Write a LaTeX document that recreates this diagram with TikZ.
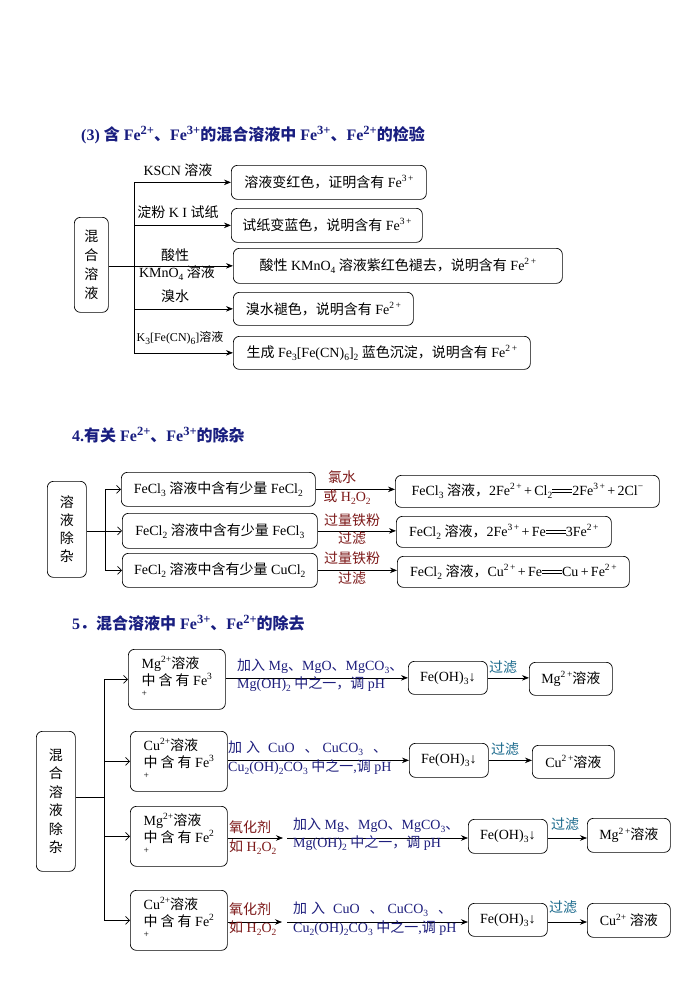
\documentclass[tikz,border=0pt]{standalone}
\usepackage{fontspec}
\setmainfont{Liberation Serif}
\newfontfamily\cjkf{Noto Sans CJK SC}
\usetikzlibrary{arrows.meta}
\XeTeXinterchartokenstate=1
\newXeTeXintercharclass\cjkcls
\newcount\cjkcc
\cjkcc="3000 \loop \XeTeXcharclass\cjkcc=\cjkcls \advance\cjkcc by 1 \ifnum\cjkcc<"3040 \repeat
\cjkcc="4E00 \loop \XeTeXcharclass\cjkcc=\cjkcls \advance\cjkcc by 1 \ifnum\cjkcc<"A000 \repeat
\cjkcc="FF00 \loop \XeTeXcharclass\cjkcc=\cjkcls \advance\cjkcc by 1 \ifnum\cjkcc<"FFF0 \repeat
\XeTeXinterchartoks 0 \cjkcls={\cjkf}
\XeTeXinterchartoks 4095 \cjkcls={\cjkf}
\XeTeXinterchartoks \cjkcls 0={\rmfamily}
\XeTeXinterchartoks \cjkcls 4095={\rmfamily}
\newcommand\fs{\fontsize{14pt}{17pt}\selectfont}
\newcommand\ft{\fontsize{16pt}{18pt}\selectfont\bfseries}
\newcommand\sups[1]{\raisebox{0.42em}{\fontsize{9.5pt}{10pt}\selectfont #1}}
\newcommand\subs[1]{\raisebox{-0.22em}{\fontsize{9.5pt}{10pt}\selectfont #1}}
\newcommand\supt[1]{\raisebox{0.4em}{\fontsize{12.5pt}{13pt}\selectfont #1}}
\newcommand\dbar{\makebox[20pt]{\rule[0.2em]{20pt}{0.6pt}\hspace{-20pt}\rule[0.42em]{20pt}{0.6pt}}}
\definecolor{ttlc}{RGB}{25,30,128}
\definecolor{dred}{RGB}{125,25,25}
\definecolor{navyc}{RGB}{30,30,125}
\definecolor{tealc}{RGB}{25,105,140}
\tikzset{
 box/.style={draw, line width=0.7pt, rounded corners=6pt, inner sep=0pt, font=\fs, anchor=north west},
 arF/.style={line width=0.7pt, -{Stealth[length=7pt,width=5.5pt]}},
 arO/.style={line width=0.7pt, -{Straight Barb[length=4pt,width=8pt]}},
 ln/.style={line width=0.7pt},
 lab/.style={inner sep=0pt, font=\fs},
 ttl/.style={inner sep=0pt, anchor=west, font=\ft, text=ttlc},
}
\begin{document}
\begin{tikzpicture}[x=1pt,y=-1pt]
\useasboundingbox (0,0) rectangle (696,983);
\fill[white] (0,0) rectangle (696,983);
% ---------- Section (3)
\node[ttl] (t1) at (81,135) {(3) 含 Fe\supt{2+}、Fe\supt{3+}的混合溶液中 Fe\supt{3+}、Fe\supt{2+}的检验};
\node[box, minimum width=34pt, minimum height=95pt, align=center, font=\fontsize{14pt}{19pt}\selectfont] (m1) at (74,217) {混\\合\\溶\\液};
\node[box, minimum width=195pt, minimum height=34pt] (b1) at (231,165) {溶液变红色，证明含有 Fe\sups{3\,+}};
\node[box, minimum width=191pt, minimum height=34pt] (b2) at (231,208) {试纸变蓝色，说明含有 Fe\sups{3\,+}};
\node[box, minimum width=329pt, minimum height=35pt] (b3) at (233,248) {酸性 KMnO\subs{4} 溶液紫红色褪去，说明含有 Fe\sups{2\,+}};
\node[box, minimum width=180pt, minimum height=33pt] (b4) at (233,292) {溴水褪色，说明含有 Fe\sups{2\,+}};
\node[box, minimum width=297pt, minimum height=33pt] (b5) at (233,336) {生成 Fe\subs{3}[Fe(CN)\subs{6}]\subs{2} 蓝色沉淀，说明含有 Fe\sups{2\,+}};
\coordinate (tr1) at (134,0);
\draw[ln] (b1.west -| tr1) -- (b5.west -| tr1);
\draw[arF] (b1.west -| tr1) -- (b1.west);
\draw[arF] (b2.west -| tr1) -- (b2.west);
\draw[arF] (m1.east |- b3.west) -- (b3.west);
\draw[arF] (b4.west -| tr1) -- (b4.west);
\draw[arF] (b5.west -| tr1) -- (b5.west);
\node[lab] (l11) at (178,170) {KSCN 溶液};
\node[lab] (l12) at (178,212) {淀粉 K I 试纸};
\node[lab] (l13) at (175,255) {酸性};
\node[lab] (l14) at (177,273) {KMnO\subs{4} 溶液};
\node[lab] (l15) at (175,296) {溴水};
\node[lab, font=\fontsize{12pt}{14pt}\selectfont] (l16) at (180,338) {K\subs{3}[Fe(CN)\subs{6}]溶液};
% ---------- Section 4
\node[ttl] (t2) at (72,435) {4.有关 Fe\supt{2+}、Fe\supt{3+}的除杂};
\node[box, minimum width=39pt, minimum height=96pt, align=center, font=\fontsize{14pt}{18pt}\selectfont] (m2) at (47,481) {溶\\液\\除\\杂};
\node[box, minimum width=194pt, minimum height=34pt] (c1) at (121,472) {FeCl\subs{3} 溶液中含有少量 FeCl\subs{2}};
\node[box, minimum width=195pt, minimum height=35pt] (c2) at (122,513) {FeCl\subs{2} 溶液中含有少量 FeCl\subs{3}};
\node[box, minimum width=195pt, minimum height=34pt] (c3) at (122,553) {FeCl\subs{2} 溶液中含有少量 CuCl\subs{2}};
\node[box, minimum width=264pt, minimum height=32pt] (d1) at (395,475) {FeCl\subs{3} 溶液，2Fe\sups{2\,+}\,+\,Cl\subs{2}\dbar 2Fe\sups{3\,+}\,+\,2Cl\sups{−}};
\node[box, minimum width=215pt, minimum height=31pt] (d2) at (396,516) {FeCl\subs{2} 溶液，2Fe\sups{3\,+}\,+\,Fe\dbar 3Fe\sups{2\,+}};
\node[box, minimum width=232pt, minimum height=31pt] (d3) at (397,556) {FeCl\subs{2} 溶液，Cu\sups{2\,+}\,+\,Fe\dbar Cu\,+\,Fe\sups{2\,+}};
\coordinate (tr2) at (105,0);
\draw[ln] (c1.west -| tr2) -- (c3.west -| tr2);
\draw[arO] (c1.west -| tr2) -- (c1.west);
\draw[arO] (m2.east |- c2.west) -- (c2.west);
\draw[arO] (c3.west -| tr2) -- (c3.west);
\draw[arF] (c1.east) -- (c1.east -| d1.west);
\draw[arF] (c2.east) -- (c2.east -| d2.west);
\draw[arF] (c3.east) -- (c3.east -| d3.west);
\node[lab, text=dred] (l21) at (342,477) {氯水};
\node[lab, text=dred] (l22) at (347,497) {或 H\subs{2}O\subs{2}};
\node[lab, text=dred] (l23) at (352,520) {过量铁粉};
\node[lab, text=dred] (l24) at (352,538) {过滤};
\node[lab, text=dred] (l25) at (352,558) {过量铁粉};
\node[lab, text=dred] (l26) at (352,578) {过滤};
% ---------- Section 5
\node[ttl] (t3) at (72,623) {5．混合溶液中 Fe\supt{3+}、Fe\supt{2+}的除去};
\node[box, minimum width=39pt, minimum height=140pt, align=center, font=\fontsize{14pt}{18.5pt}\selectfont] (m3) at (36,731) {混\\合\\溶\\液\\除\\杂};
\node[box, minimum width=97pt, minimum height=60pt, align=left] (e1) at (128,649) {Mg\sups{2+}溶液\\中\hspace{3pt}含\hspace{3pt}有 Fe\sups{3}\\\sups{+}};
\node[box, minimum width=97pt, minimum height=60pt, align=left] (e2) at (130,731) {Cu\sups{2+}溶液\\中\hspace{3pt}含\hspace{3pt}有 Fe\sups{3}\\\sups{+}};
\node[box, minimum width=97pt, minimum height=60pt, align=left] (e3) at (130,806) {Mg\sups{2+}溶液\\中\hspace{3pt}含\hspace{3pt}有 Fe\sups{2}\\\sups{+}};
\node[box, minimum width=97pt, minimum height=60pt, align=left] (e4) at (130,890) {Cu\sups{2+}溶液\\中\hspace{3pt}含\hspace{3pt}有 Fe\sups{2}\\\sups{+}};
\coordinate (tr3) at (104,0);
\coordinate (j3) at (104,797);
\draw[ln] (e1.west -| tr3) -- (e4.west -| tr3);
\draw[ln] (m3.east |- j3) -- (j3);
\draw[arO] (e1.west -| tr3) -- (e1.west);
\draw[arO] (e2.west -| tr3) -- (e2.west);
\draw[arO] (e3.west -| tr3) -- (e3.west);
\draw[arO] (e4.west -| tr3) -- (e4.west);
\node[box, minimum width=79pt, minimum height=33pt] (f1) at (408,661) {Fe(OH)\subs{3}↓};
\node[box, minimum width=83pt, minimum height=33pt] (g1) at (529,662) {Mg\sups{2\,+}溶液};
\node[box, minimum width=79pt, minimum height=34pt] (f2) at (409,743) {Fe(OH)\subs{3}↓};
\node[box, minimum width=82pt, minimum height=33pt] (g2) at (532,745) {Cu\sups{2\,+}溶液};
\node[box, minimum width=79pt, minimum height=34pt] (f3) at (468,819) {Fe(OH)\subs{3}↓};
\node[box, minimum width=83pt, minimum height=34pt] (g3) at (587,818) {Mg\sups{2\,+}溶液};
\node[box, minimum width=79pt, minimum height=33pt] (f4) at (468,903) {Fe(OH)\subs{3}↓};
\node[box, minimum width=83pt, minimum height=34pt] (g4) at (587,903) {Cu\sups{2+} 溶液};
% row 1
\draw[arF] (e1.east |- f1.west) -- (f1.west);
\draw[arF] (f1.east) -- (f1.east -| g1.west);
% row 2
\draw[arF] (e2.east |- f2.west) -- (f2.west);
\draw[arF] (f2.east) -- (f2.east -| g2.west);
% row 3
\coordinate (k3a) at (283,838);
\coordinate (k3b) at (287,838);
\draw[arF] (e3.east |- k3a) -- (k3a);
\draw[arF] (k3b) -- (k3b -| f3.west);
\draw[arF] (f3.east |- k3a) -- (k3a -| g3.west);
% row 4
\coordinate (k4a) at (282,922);
\coordinate (k4b) at (287,922);
\draw[arF] (e4.east |- k4a) -- (k4a);
\draw[arF] (k4b) -- (k4b -| f4.west);
\draw[arF] (f4.east |- k4a) -- (k4a -| g4.west);
% labels
\node[lab, text=navyc, anchor=west] (n11) at (237,666) {加入 Mg、MgO、MgCO\subs{3}、};
\node[lab, text=navyc, anchor=west] (n12) at (237,684) {Mg(OH)\subs{2} 中之一，调 pH};
\node[lab, text=navyc, anchor=west] (n21) at (228,748) {加\hspace{4pt}入\hspace{8pt}CuO\hspace{10pt}、\hspace{4pt}CuCO\subs{3}\hspace{10pt}、};
\node[lab, text=navyc, anchor=west] (n22) at (228,767) {Cu\subs{2}(OH)\subs{2}CO\subs{3} 中之一,调 pH};
\node[lab, text=navyc, anchor=west] (n31) at (293,825) {加入 Mg、MgO、MgCO\subs{3}、};
\node[lab, text=navyc, anchor=west] (n32) at (293,843) {Mg(OH)\subs{2} 中之一，调 pH};
\node[lab, text=navyc, anchor=west] (n41) at (293,909) {加\hspace{4pt}入\hspace{8pt}CuO\hspace{10pt}、\hspace{4pt}CuCO\subs{3}\hspace{10pt}、};
\node[lab, text=navyc, anchor=west] (n42) at (293,928) {Cu\subs{2}(OH)\subs{2}CO\subs{3} 中之一,调 pH};
\node[lab, text=dred, anchor=west] (o31) at (229,827) {氧化剂};
\node[lab, text=dred, anchor=west] (o32) at (229,847) {如 H\subs{2}O\subs{2}};
\node[lab, text=dred, anchor=west] (o41) at (229,909) {氧化剂};
\node[lab, text=dred, anchor=west] (o42) at (229,928) {如 H\subs{2}O\subs{2}};
\node[lab, text=tealc] (p1) at (503,667) {过滤};
\node[lab, text=tealc] (p2) at (505,749) {过滤};
\node[lab, text=tealc] (p3) at (565,824) {过滤};
\node[lab, text=tealc] (p4) at (563,907) {过滤};
\end{tikzpicture}
\end{document}
